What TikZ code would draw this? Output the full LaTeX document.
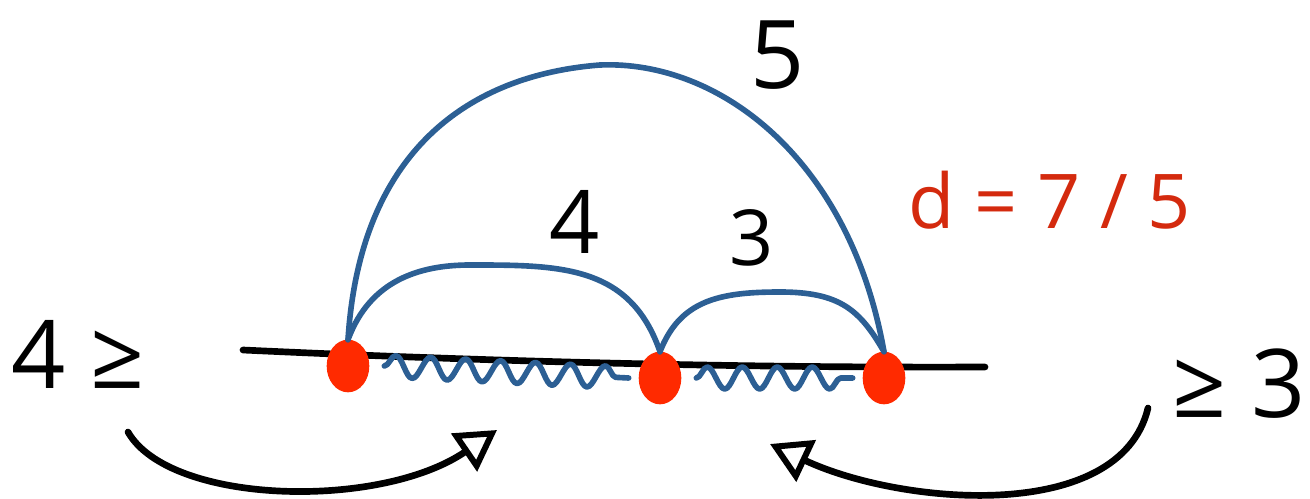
\documentclass[tikz,border=0pt]{standalone}
\usepackage{fontspec}
\setmainfont{Open Sans}
\usepackage{xcolor}
\usetikzlibrary{arrows.meta,positioning,decorations.pathmorphing,shapes.geometric}
\definecolor{inkblue}{HTML}{2C5F94}
\definecolor{inkred}{HTML}{FF2A00}
\definecolor{textred}{HTML}{D42A0E}
\begin{document}
\begin{tikzpicture}[
    x=0.02cm, y=-0.02cm,
    ink/.style={line width=3.8pt, line cap=round, line join=round},
    dot/.style={ellipse, fill=inkred, draw=inkred, line width=1.5pt,
      minimum width=0.8cm, minimum height=1.0cm, inner sep=0pt},
    arc/.style={ink, draw=inkblue, line width=3.2pt},
    wave/.style={ink, draw=inkblue, line width=3.2pt,
      decorate, decoration={snake, segment length=0.7cm, amplitude=0.22cm}},
    hand/.style={font=\fontsize{50}{52}\selectfont},
    side/.style={font=\fontsize{54}{56}\selectfont},
    swing/.style={ink, -{Triangle[open, length=0.8cm, width=0.9cm, line width=3.4pt]}}
  ]
  \useasboundingbox (0,0) rectangle (1310,499);

  % the line and its three points
  \coordinate (start) at (243,350);
  \coordinate (stop)  at (985,367);
  \draw[ink] (start) .. controls (500,362) and (750,368) .. (stop);
  \node[dot] (a) at (348,366) {};
  \node[dot] (b) at (660,378) {};
  \node[dot] (c) at (884,378) {};

  % waves between the points
  \draw[wave] ([xshift=0.3cm]a.east) -- ([xshift=-0.2cm]b.west);
  \draw[wave] ([xshift=0.3cm]b.east) -- ([xshift=-0.2cm]c.west);

  % arcs
  \draw[arc] (a.north) .. controls (360,150) and (470,75) .. (600,65)
    .. controls (720,60) and (850,160) .. (c.north);
  \draw[arc] (a.north) .. controls (370,280) and (420,265) .. (470,265)
    .. controls (560,265) and (630,265) .. (b.north);
  \draw[arc] (b.north) .. controls (680,300) and (720,292) .. (780,292)
    .. controls (840,292) and (860,310) .. (c.north);

  % labels
  \node[hand, font=\fontsize{54}{56}\selectfont] (five) at (778,55) {5};
  \node[hand] (four)  at (575,222) {4};
  \node[hand, font=\fontsize{44}{46}\selectfont] (three) at (752,238) {3};
  \node[font=\fontsize{43}{45}\selectfont, text=textred] (d) at (1050,200) {d = 7 / 5};
  \node[side, anchor=west] (left) at (5,354) {4 ≥};
  \node[side, anchor=east] (right) at (1312,384) {≥ 3};

  % bottom arrows
  \coordinate (l0) at (128,432);
  \coordinate (l1) at (497,430);
  \coordinate (r0) at (1148,408);
  \coordinate (r1) at (770,444);
  \draw[swing] (l0) .. controls (170,505) and (380,510) .. (l1);
  \draw[swing] (r0) .. controls (1120,525) and (900,505) .. (r1);
\end{tikzpicture}
\end{document}
